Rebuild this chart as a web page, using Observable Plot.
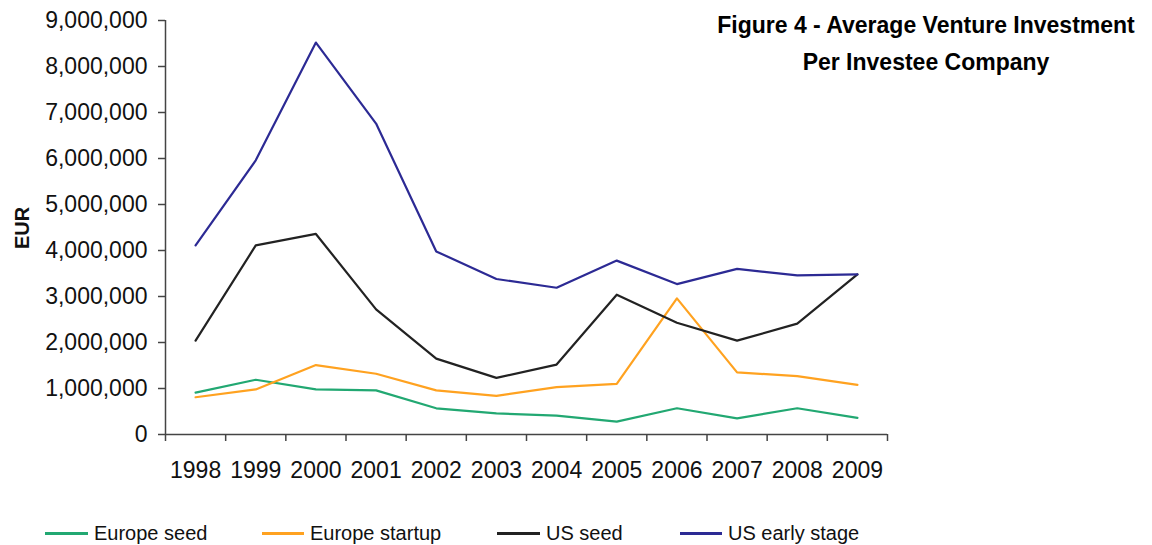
<!DOCTYPE html>
<html>
<head>
<meta charset="utf-8">
<script src="https://cdn.jsdelivr.net/npm/d3@7"></script>
<script src="https://cdn.jsdelivr.net/npm/@observablehq/plot@0.6"></script>
<style>
  html, body { margin: 0; padding: 0; background: #fff; }
  #wrap { position: relative; width: 1152px; height: 545px; overflow: hidden; font-family: "Liberation Sans", Arial, sans-serif; }
  #title { position: absolute; left: 690px; top: 7px; width: 472px; text-align: center; font-weight: bold; font-size: 23px; line-height: 37px; color: #000; }
  #ylab { position: absolute; left: 22px; top: 228px; transform: translate(-50%, -50%) rotate(-90deg); font-weight: bold; font-size: 20px; color: #111; white-space: nowrap; }
  .leg-line { position: absolute; height: 0; border-top: 3px solid; }
  .leg-text { position: absolute; font-size: 20px; color: #111; white-space: nowrap; line-height: 20px; }
</style>
</head>
<body>
<div id="wrap">
  <div id="chart"></div>
  <div id="title">Figure 4 - Average Venture Investment<br>Per Investee Company</div>
  <div id="ylab">EUR</div>
  <div id="legend"></div>
</div>
<script>
const years = [1998, 1999, 2000, 2001, 2002, 2003, 2004, 2005, 2006, 2007, 2008, 2009];
const seriesNames = ["Europe seed", "Europe startup", "US seed", "US early stage"];
const seriesColors = ["#22a872", "#ffa220", "#222222", "#2c2a94"];
const europeSeed    = [910000, 1190000, 980000, 960000, 570000, 460000, 410000, 280000, 570000, 350000, 570000, 360000];
const europeStartup = [810000, 980000, 1510000, 1320000, 960000, 840000, 1030000, 1100000, 2960000, 1350000, 1270000, 1080000];
const usSeed        = [2040000, 4110000, 4360000, 2720000, 1650000, 1230000, 1520000, 3040000, 2430000, 2040000, 2410000, 3480000];
const usEarly       = [4110000, 5960000, 8520000, 6760000, 3980000, 3380000, 3190000, 3780000, 3270000, 3600000, 3460000, 3480000];
const yTicks = [0, 1000000, 2000000, 3000000, 4000000, 5000000, 6000000, 7000000, 8000000, 9000000];

const allSeries = [europeSeed, europeStartup, usSeed, usEarly];
const data = [];
allSeries.forEach((vals, i) => {
  vals.forEach((v, j) => data.push({series: seriesNames[i], year: years[j], value: v}));
});
const bounds = d3.range(years[0] - 0.5, years[years.length - 1] + 1, 1);

const chart = Plot.plot({
  width: 1152,
  height: 500,
  marginLeft: 165,
  marginRight: 265,
  marginTop: 20,
  marginBottom: 66,
  style: {fontFamily: "'Liberation Sans', Arial, sans-serif", color: "#111", background: "#fff"},
  x: {type: "linear", domain: [bounds[0], bounds[bounds.length - 1]]},
  y: {domain: [0, 9000000]},
  color: {domain: seriesNames, range: seriesColors},
  marks: [
    Plot.axisY(yTicks, {tickSize: 7, tickPadding: 11, tickFormat: d3.format(","), fontSize: 23, label: null, stroke: "#444", strokeWidth: 1.5}),
    Plot.axisX(bounds, {tickSize: 7, tickFormat: () => "", label: null, stroke: "#444", strokeWidth: 1.5}),
    Plot.axisX(years, {tickSize: 0, tickPadding: 27, tickFormat: d => String(d), fontSize: 23, label: null}),
    Plot.ruleX([bounds[0]], {stroke: "#444", strokeWidth: 1.5}),
    Plot.ruleY([0], {stroke: "#444", strokeWidth: 1.5}),
    Plot.line(data, {x: "year", y: "value", z: "series", stroke: "series", strokeWidth: 2.2})
  ]
});
document.getElementById("chart").appendChild(chart);

const legendPos = [[45, 94], [262, 310], [497, 546], [680, 728]];
const legend = document.getElementById("legend");
seriesNames.forEach((name, i) => {
  const ln = document.createElement("div");
  ln.className = "leg-line";
  ln.style.left = legendPos[i][0] + "px";
  ln.style.width = (legendPos[i][1] - legendPos[i][0] - 6) + "px";
  ln.style.top = "532px";
  ln.style.borderTopColor = seriesColors[i];
  legend.appendChild(ln);
  const tx = document.createElement("div");
  tx.className = "leg-text";
  tx.style.left = legendPos[i][1] + "px";
  tx.style.top = "523px";
  tx.textContent = name;
  legend.appendChild(tx);
});
</script>
</body>
</html>
